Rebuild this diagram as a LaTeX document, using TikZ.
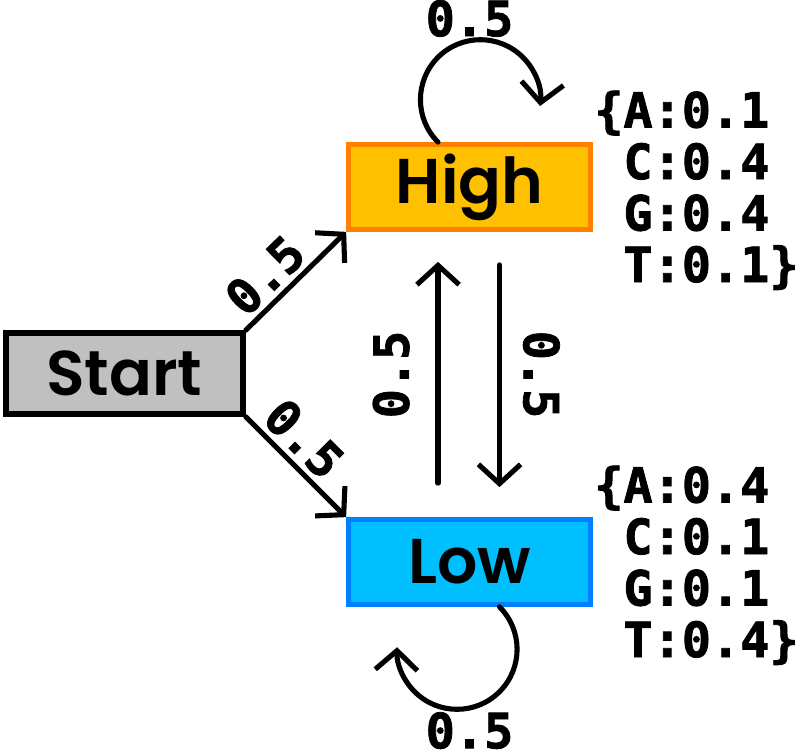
\documentclass[tikz,border=0pt]{standalone}
\usepackage{fontspec}
\usetikzlibrary{arrows.meta,positioning}
\newfontfamily\statefont{Poppins SemiBold}
\newfontfamily\probfont{DejaVu Sans Mono}[BoldFeatures={FakeBold=1.6}]
\definecolor{startfill}{HTML}{C0C0C0}
\definecolor{highfill}{HTML}{FFC000}
\definecolor{highdraw}{HTML}{FF8000}
\definecolor{lowfill}{HTML}{00BFFF}
\definecolor{lowdraw}{HTML}{0080FF}

\begin{document}
\begin{tikzpicture}[
  state/.style={draw, rectangle, inner sep=0pt, minimum width=4.84cm, minimum height=1.7cm,
    line width=2.7pt, font=\statefont\fontsize{36pt}{40pt}\selectfont},
  prob/.style={inner sep=0pt, font=\probfont\bfseries\fontsize{27.6pt}{29.3pt}\selectfont},
  emit/.style={prob, align=left, anchor=base west},
  trans/.style={line width=2.9pt, line cap=round, -{Straight Barb[length=11pt,width=24pt]}}
]
\useasboundingbox (0,0) rectangle (16,15);
% states
\node[state, fill=startfill, line width=3.2pt, minimum width=4.74cm, minimum height=1.62cm] (Start) at (2.49,7.53) {Start};
\node[state, fill=highfill, draw=highdraw] (High) at (9.39,11.26) {High};
\node[state, fill=lowfill, draw=lowdraw] (Low) at (9.39,3.76) {Low};
% start transitions
\draw[trans] (Start.north east) -- node[prob, sloped, above=0.1cm, pos=0.37] {0.5} (High.south west);
\draw[trans] (Start.south east) -- node[prob, sloped, above=0.1cm, pos=0.4] {0.5} (Low.north west);
% between states
\draw[trans, shorten <=0.68cm, shorten >=0.6cm] ([xshift=-0.63cm]Low.north) -- node[prob, sloped, above=0.52cm] {0.5} ([xshift=-0.63cm]High.south);
\draw[trans, shorten <=0.66cm, shorten >=0.6cm] ([xshift=0.6cm]High.south) -- node[prob, sloped, above=0.42cm] {0.5} ([xshift=0.6cm]Low.north);
% self loops
\draw[trans] ([xshift=-0.63cm]High.north) arc (225:-6:1.2cm);
\node[prob, above=2.1cm of High.north] (highloop) {0.5};
\draw[trans] ([xshift=0.6cm]Low.south) arc (45:-182:1.2cm);
\node[prob, below=2.1cm of Low.south] (lowloop) {0.5};
% emissions
\node[emit] (highemit) at ([xshift=0.02cm, yshift=-1.9cm]High.east) {\{A:0.1\\\phantom{\{}C:0.4\\\phantom{\{}G:0.4\\\phantom{\{}T:0.1\}};
\node[emit] (lowemit) at ([xshift=0.02cm, yshift=-1.9cm]Low.east) {\{A:0.4\\\phantom{\{}C:0.1\\\phantom{\{}G:0.1\\\phantom{\{}T:0.4\}};
\end{tikzpicture}
\end{document}
